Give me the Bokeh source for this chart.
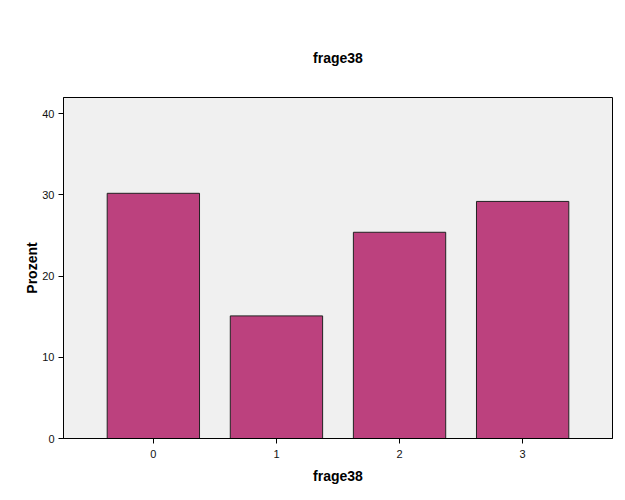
from bokeh.plotting import figure
from bokeh.models import Range1d, FixedTicker
from bokeh.embed import file_html
from bokeh.resources import INLINE

categories = [0, 1, 2, 3]
prozent = [30.2, 15.1, 25.4, 29.2]
y_ticks = [0, 10, 20, 30, 40]

p = figure(width=617, height=492, output_backend="svg", toolbar_location=None,
           x_range=Range1d(-0.73, 3.73), y_range=Range1d(0, 42),
           min_border_left=63, min_border_right=5, min_border_top=97, min_border_bottom=54)

p.title.text = "frage38"
p.title.align = "center"
p.title.text_font = "Liberation Sans"
p.title.text_font_size = "14px"
p.title.text_font_style = "bold"
p.title.text_color = "black"
p.title.standoff = 64

p.background_fill_color = "#F0F0F0"
p.border_fill_color = "white"
p.outline_line_color = "black"
p.outline_line_width = 1
p.grid.visible = False

p.vbar(x=categories, top=prozent, width=0.75, bottom=0,
       fill_color="#BC417E", line_color="#222222", line_width=1)

for ax in (p.xaxis[0], p.yaxis[0]):
    ax.axis_line_color = "black"
    ax.major_tick_line_color = "black"
    ax.major_tick_out = 5
    ax.major_tick_in = 0
    ax.minor_tick_line_color = None
    ax.major_label_text_font = "Liberation Sans"
    ax.major_label_text_font_size = "11px"
    ax.major_label_text_color = "#111111"
    ax.axis_label_text_font = "Liberation Sans"
    ax.axis_label_text_font_size = "14px"
    ax.axis_label_text_font_style = "bold"
    ax.axis_label_text_color = "black"

p.xaxis.ticker = FixedTicker(ticks=categories)
p.yaxis.ticker = FixedTicker(ticks=y_ticks)
p.xaxis.axis_label = "frage38"
p.yaxis.axis_label = "Prozent"
p.xaxis.major_label_standoff = 6
p.xaxis.axis_label_standoff = 7
p.yaxis.major_label_standoff = 4
p.yaxis.axis_label_standoff = -1

open("out.html", "w").write(file_html(p, INLINE))
